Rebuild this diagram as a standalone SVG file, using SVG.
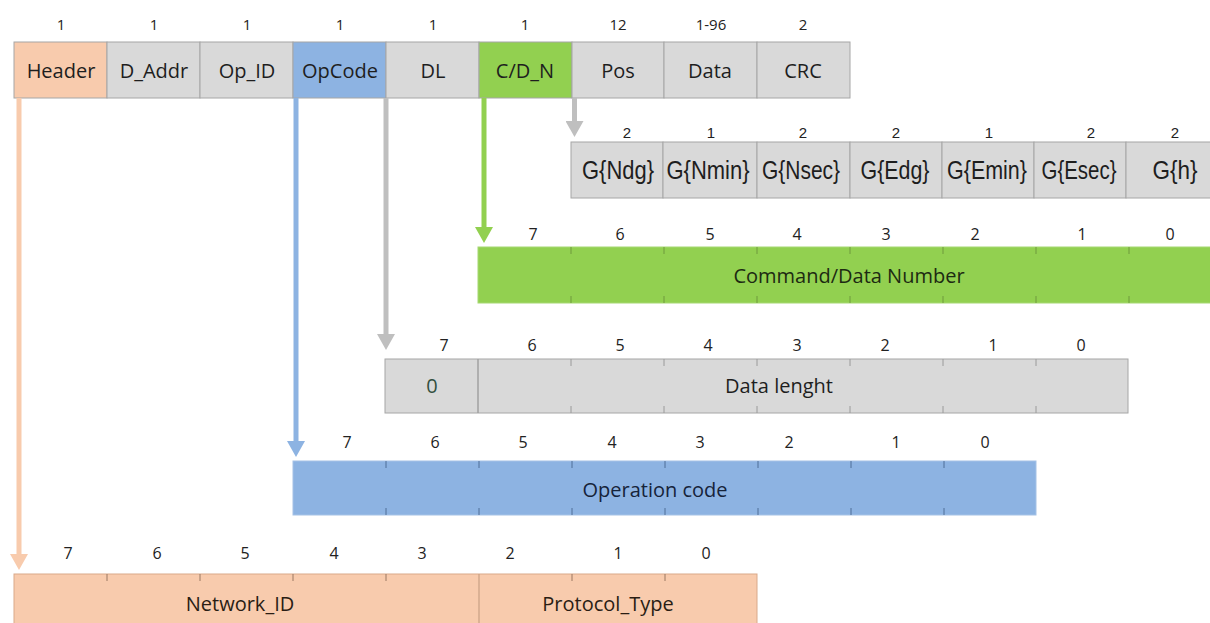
<svg xmlns="http://www.w3.org/2000/svg" width="1210" height="623" viewBox="0 0 1210 623">
<defs>
<style>
.num{font-family:"Open Sans","Liberation Sans",sans-serif;font-size:15px;fill:#222;text-anchor:middle;dominant-baseline:central}
.bnum{font-family:"Open Sans","Liberation Sans",sans-serif;font-size:16px;fill:#222;text-anchor:middle;dominant-baseline:central}
.lbl{font-family:"Open Sans","Liberation Sans",sans-serif;font-size:20px;fill:#1e1e1e;text-anchor:middle;dominant-baseline:central}
.glbl{font-family:"Liberation Sans",Arial,sans-serif;font-size:25px;fill:#1e1e1e;text-anchor:middle;dominant-baseline:central}
.gnum{font-family:"Liberation Sans",Arial,sans-serif;font-size:15px;fill:#222;text-anchor:middle;dominant-baseline:central}
.peach{fill:#F8CBAD;stroke:#e3b696;stroke-width:1}
.gray{fill:#D9D9D9;stroke:#a6a6a6;stroke-width:1}
.blue{fill:#8DB3E2;stroke:#a5c2e6;stroke-width:1}
.green{fill:#92D050;stroke:#a6d873;stroke-width:1}
.tick{stroke-width:1}
</style>
<marker id="hPeach" markerUnits="userSpaceOnUse" viewBox="0 0 16 18" markerWidth="16" markerHeight="18" refX="0" refY="9" orient="auto"><path d="M0,0 L16,9 L0,18 z" fill="#F8CBAD"/></marker>
<marker id="hBlue" markerUnits="userSpaceOnUse" viewBox="0 0 16 18" markerWidth="16" markerHeight="18" refX="0" refY="9" orient="auto"><path d="M0,0 L16,9 L0,18 z" fill="#8DB3E2"/></marker>
<marker id="hGray" markerUnits="userSpaceOnUse" viewBox="0 0 16 18" markerWidth="16" markerHeight="18" refX="0" refY="9" orient="auto"><path d="M0,0 L16,9 L0,18 z" fill="#BFBFBF"/></marker>
<marker id="hGreen" markerUnits="userSpaceOnUse" viewBox="0 0 16 18" markerWidth="16" markerHeight="18" refX="0" refY="9" orient="auto"><path d="M0,0 L16,9 L0,18 z" fill="#92D050"/></marker>
</defs>
<rect width="1210" height="623" fill="#ffffff"/>

<!-- Frame (top row) -->
<g id="frame">
<text class="num" x="61" y="24">1</text>
<text class="num" x="154" y="24">1</text>
<text class="num" x="247" y="24">1</text>
<text class="num" x="340" y="24">1</text>
<text class="num" x="433" y="24">1</text>
<text class="num" x="525" y="24">1</text>
<text class="num" x="618" y="24">12</text>
<text class="num" x="711" y="24">1-96</text>
<text class="num" x="803" y="24">2</text>
<rect class="peach" x="14" y="42" width="93" height="56" style="stroke:#a6a6a6"/>
<rect class="gray" x="107" y="42" width="93" height="56"/>
<rect class="gray" x="200" y="42" width="93" height="56"/>
<rect class="blue" x="293" y="42" width="93" height="56" style="stroke:#a6a6a6"/>
<rect class="gray" x="386" y="42" width="93" height="56"/>
<rect class="green" x="479" y="42" width="93" height="56" style="stroke:#a6a6a6"/>
<rect class="gray" x="572" y="42" width="92" height="56"/>
<rect class="gray" x="664" y="42" width="93" height="56"/>
<rect class="gray" x="757" y="42" width="93" height="56"/>
<text class="lbl" x="61" y="70">Header</text>
<text class="lbl" x="154" y="70">D_Addr</text>
<text class="lbl" x="247" y="70">Op_ID</text>
<text class="lbl" x="340" y="70">OpCode</text>
<text class="lbl" x="433" y="70">DL</text>
<text class="lbl" x="525" y="70">C/D_N</text>
<text class="lbl" x="618" y="70">Pos</text>
<text class="lbl" x="710" y="70">Data</text>
<text class="lbl" x="803" y="70">CRC</text>
</g>

<!-- Pos fields -->
<g id="pos-fields">
<text class="gnum" x="627" y="132">2</text>
<text class="gnum" x="711" y="132">1</text>
<text class="gnum" x="803" y="132">2</text>
<text class="gnum" x="896" y="132">2</text>
<text class="gnum" x="989" y="132">1</text>
<text class="gnum" x="1091" y="132">2</text>
<text class="gnum" x="1175" y="132">2</text>
<rect class="gray" x="571" y="142" width="92" height="56"/>
<rect class="gray" x="663" y="142" width="94" height="56"/>
<rect class="gray" x="757" y="142" width="93" height="56"/>
<rect class="gray" x="850" y="142" width="92" height="56"/>
<rect class="gray" x="942" y="142" width="92" height="56"/>
<rect class="gray" x="1034" y="142" width="92" height="56"/>
<rect class="gray" x="1126" y="142" width="100" height="56"/>
<text class="glbl" x="618" y="170" textLength="72" lengthAdjust="spacingAndGlyphs">G{Ndg}</text>
<text class="glbl" x="708" y="170" textLength="83" lengthAdjust="spacingAndGlyphs">G{Nmin}</text>
<text class="glbl" x="801" y="170" textLength="78" lengthAdjust="spacingAndGlyphs">G{Nsec}</text>
<text class="glbl" x="895" y="170" textLength="69" lengthAdjust="spacingAndGlyphs">G{Edg}</text>
<text class="glbl" x="987" y="170" textLength="80" lengthAdjust="spacingAndGlyphs">G{Emin}</text>
<text class="glbl" x="1079" y="170" textLength="75" lengthAdjust="spacingAndGlyphs">G{Esec}</text>
<text class="glbl" x="1175" y="170" textLength="45" lengthAdjust="spacingAndGlyphs">G{h}</text>
</g>

<!-- Command/Data Number -->
<g id="cdn-bits">
<text class="bnum" x="533" y="234">7</text>
<text class="bnum" x="620" y="234">6</text>
<text class="bnum" x="710" y="234">5</text>
<text class="bnum" x="797" y="234">4</text>
<text class="bnum" x="886" y="234">3</text>
<text class="bnum" x="975" y="234">2</text>
<text class="bnum" x="1082" y="234">1</text>
<text class="bnum" x="1170" y="234">0</text>
<rect class="green" x="478" y="247" width="760" height="56"/>
<path class="tick" stroke="#6f9a3c" d="M571,247v7M664,247v7M757,247v7M850,247v7M943,247v7M1036,247v7M1129,247v7M571,303v-7M664,303v-7M757,303v-7M850,303v-7M943,303v-7M1036,303v-7M1129,303v-7"/>
<text class="lbl" x="849" y="275" style="fill:#1d2a12">Command/Data Number</text>
</g>

<!-- Data length -->
<g id="dl-bits">
<text class="bnum" x="444" y="345">7</text>
<text class="bnum" x="532" y="345">6</text>
<text class="bnum" x="620" y="345">5</text>
<text class="bnum" x="708" y="345">4</text>
<text class="bnum" x="797" y="345">3</text>
<text class="bnum" x="885" y="345">2</text>
<text class="bnum" x="993" y="345">1</text>
<text class="bnum" x="1081" y="345">0</text>
<rect class="gray" x="385" y="359" width="743" height="54"/>
<line x1="478" y1="359" x2="478" y2="413" stroke="#a0a0a0" stroke-width="1.5"/>
<path class="tick" stroke="#9a9a9a" d="M571,359v7M664,359v7M757,359v7M850,359v7M943,359v7M1036,359v7M571,413v-7M664,413v-7M757,413v-7M850,413v-7M943,413v-7M1036,413v-7"/>
<text class="lbl" x="432" y="385" style="fill:#33503f">0</text>
<text class="lbl" x="779" y="385">Data lenght</text>
</g>

<!-- Operation code -->
<g id="opcode-bits">
<text class="bnum" x="347" y="442">7</text>
<text class="bnum" x="435" y="442">6</text>
<text class="bnum" x="523" y="442">5</text>
<text class="bnum" x="612" y="442">4</text>
<text class="bnum" x="700" y="442">3</text>
<text class="bnum" x="789" y="442">2</text>
<text class="bnum" x="896" y="442">1</text>
<text class="bnum" x="985" y="442">0</text>
<rect class="blue" x="293" y="461" width="743" height="54"/>
<path class="tick" stroke="#4f6f98" d="M386,461v7M479,461v7M572,461v7M665,461v7M758,461v7M851,461v7M944,461v7M386,515v-7M479,515v-7M572,515v-7M665,515v-7M758,515v-7M851,515v-7M944,515v-7"/>
<text class="lbl" x="655" y="489" style="fill:#16233a">Operation code</text>
</g>

<!-- Header bits -->
<g id="header-bits">
<text class="bnum" x="68" y="553">7</text>
<text class="bnum" x="157" y="553">6</text>
<text class="bnum" x="245" y="553">5</text>
<text class="bnum" x="334" y="553">4</text>
<text class="bnum" x="422" y="553">3</text>
<text class="bnum" x="510" y="553">2</text>
<text class="bnum" x="618" y="553">1</text>
<text class="bnum" x="706" y="553">0</text>
<rect class="peach" x="14" y="574" width="743" height="60" style="stroke:#d9a98a"/>
<line x1="479" y1="574" x2="479" y2="623" stroke="#c9a084" stroke-width="1.2"/>
<path class="tick" stroke="#9a7862" d="M107,574v7M200,574v7M293,574v7M386,574v7M572,574v7M665,574v7"/>
<text class="lbl" x="240" y="603" style="fill:#2a1d14">Network_ID</text>
<text class="lbl" x="608" y="603" style="fill:#2a1d14">Protocol_Type</text>
</g>

<!-- Connectors -->
<g id="connectors" fill="none" stroke-width="5">
<line x1="19" y1="98" x2="19" y2="554" stroke="#F8CBAD" marker-end="url(#hPeach)"/>
<line x1="296" y1="98" x2="296" y2="441" stroke="#8DB3E2" marker-end="url(#hBlue)"/>
<line x1="386" y1="98" x2="386" y2="334" stroke="#BFBFBF" marker-end="url(#hGray)"/>
<line x1="484" y1="98" x2="484" y2="227" stroke="#92D050" marker-end="url(#hGreen)"/>
<line x1="574.5" y1="98" x2="574.5" y2="121" stroke="#BFBFBF" marker-end="url(#hGray)"/>
</g>
</svg>
